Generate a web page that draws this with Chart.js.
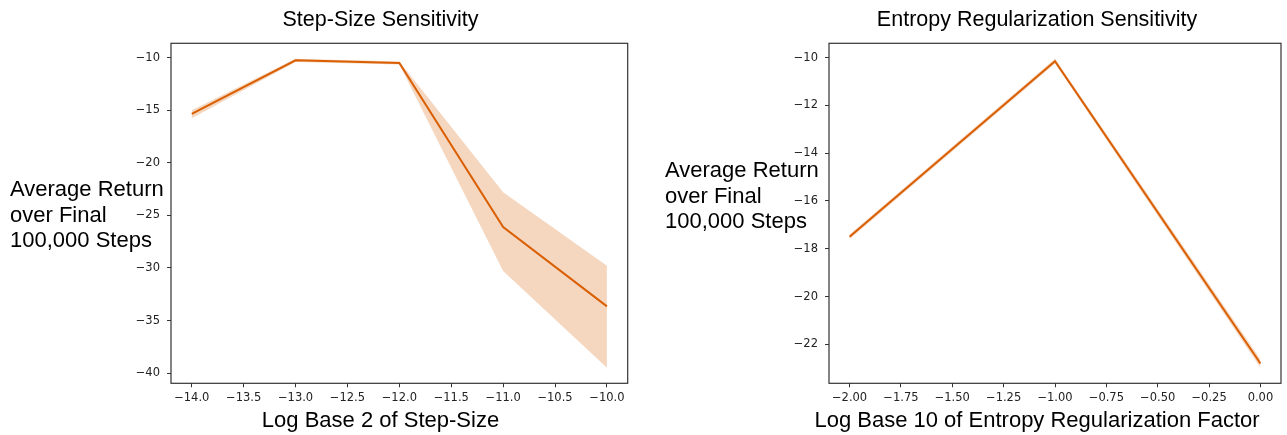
<!DOCTYPE html>
<html><head><meta charset="utf-8">
<script src="https://cdn.jsdelivr.net/npm/chart.js@4.4.0/dist/chart.umd.min.js"></script>
<style>
html,body{margin:0;padding:0;background:#fff;width:1287px;height:435px;overflow:hidden;position:relative;}
.wrap{position:absolute;top:0;height:435px;}
.ylab{position:absolute;font-family:'Liberation Sans',Arial,sans-serif;font-size:22px;line-height:25.5px;color:#000;white-space:nowrap;}
</style></head><body>
<div class="wrap" style="left:100px;width:561px"><canvas id="c1" width="561" height="435"></canvas></div>
<div class="wrap" style="left:787px;width:500px"><canvas id="c2" width="500" height="435"></canvas></div>
<div class="ylab" style="left:10px;top:176px">Average Return<br>over Final<br>100,000 Steps</div>
<div class="ylab" style="left:665px;top:157px">Average Return<br>over Final<br>100,000 Steps</div>
<script>
// ---- Data: Step-Size Sensitivity ----
const stepX      = [-14, -13, -12, -11, -10];
const stepMean   = [-15.35, -10.25, -10.5, -26.1, -33.65];
const stepLower  = [-15.75, -10.4, -10.65, -30.3, -39.5];
const stepUpper  = [-15.0, -10.1, -10.35, -22.8, -29.8];
const stepXTicks = [-14, -13.5, -13, -12.5, -12, -11.5, -11, -10.5, -10];
const stepYTicks = [-40, -35, -30, -25, -20, -15, -10];

// ---- Data: Entropy Regularization Sensitivity ----
const entX      = [-2, -1, 0];
const entMean   = [-17.5, -10.15, -22.8];
const entLower  = [-17.6, -10.25, -22.98];
const entUpper  = [-17.4, -10.05, -22.62];
const entXTicks = [-2, -1.75, -1.5, -1.25, -1, -0.75, -0.5, -0.25, 0];
const entYTicks = [-22, -20, -18, -16, -14, -12, -10];

const LINE = '#d95f02';
const BAND = 'rgba(217,95,2,0.25)';
const TICKFONT = {family: "'DejaVu Sans', sans-serif", size: 11.5};
const TEXTFONT = "'Liberation Sans', Arial, sans-serif";

function fmt(v, dec) {
  const s = Math.abs(v).toFixed(dec);
  return (v < -1e-9 ? '\u2212' : '') + s;
}
function pts(xs, ys) { return xs.map((x, i) => ({x: x, y: ys[i]})); }

const frame = {
  id: 'frame',
  afterDraw(c) {
    const a = c.chartArea, ctx = c.ctx;
    ctx.save();
    ctx.strokeStyle = '#333';
    ctx.lineWidth = 1.2;
    ctx.strokeRect(a.left, a.top, a.right - a.left, a.bottom - a.top);
    ctx.restore();
  }
};

function makeChart(id, cfg) {
  const all = cfg.lo.concat(cfg.hi, cfg.mean);
  const dmin = Math.min(...all), dmax = Math.max(...all);
  const ym = (dmax - dmin) * 0.05;
  const xmin = Math.min(...cfg.xs), xmax = Math.max(...cfg.xs);
  const xm = (xmax - xmin) * 0.05;
  return new Chart(document.getElementById(id), {
    type: 'line',
    data: {
      datasets: [
        {data: pts(cfg.xs, cfg.lo), borderWidth: 0, pointRadius: 0, fill: false, order: 2, borderColor: 'rgba(0,0,0,0)'},
        {data: pts(cfg.xs, cfg.hi), borderWidth: 0, pointRadius: 0, fill: 0, backgroundColor: BAND, order: 1, borderColor: 'rgba(0,0,0,0)'},
        {data: pts(cfg.xs, cfg.mean), borderColor: LINE, borderWidth: 2, pointRadius: 0, fill: false, order: 0, tension: 0}
      ]
    },
    options: {
      responsive: false,
      animation: false,
      devicePixelRatio: 1,
      events: [],
      layout: {padding: {left: cfg.pad, right: cfg.pad, top: 0, bottom: 0}},
      plugins: {
        legend: {display: false},
        tooltip: {enabled: false},
        filler: {drawTime: 'beforeDatasetsDraw'},
        title: {display: true, text: cfg.title, color: '#000',
          font: {family: TEXTFONT, size: 21.5, weight: 'normal'},
          padding: {top: 7.3, bottom: 10.2}},
        subtitle: {display: true, position: 'bottom', text: cfg.xTitle, color: '#000',
          font: {family: TEXTFONT, size: 22, weight: 'normal'},
          padding: {top: 4.5, bottom: 0.8}}
      },
      scales: {
        x: {
          type: 'linear', min: xmin - xm, max: xmax + xm,
          afterBuildTicks: s => { s.ticks = cfg.xTicks.map(v => ({value: v})); },
          afterFit: s => { s.height = 20; },
          ticks: {callback: v => fmt(v, cfg.xDec), font: TICKFONT, color: '#222', padding: 4, maxRotation: 0, autoSkip: false},
          grid: {display: true, drawOnChartArea: false, drawTicks: true, tickLength: 4, color: '#333', lineWidth: 1},
          border: {display: false}
        },
        y: {
          type: 'linear', min: dmin - ym, max: dmax + ym,
          afterBuildTicks: s => { s.ticks = cfg.yTicks.map(v => ({value: v})); },
          afterFit: s => { s.width = cfg.yWidth; },
          ticks: {callback: v => fmt(v, 0), font: TICKFONT, color: '#222', padding: 7, autoSkip: false},
          grid: {display: true, drawOnChartArea: false, drawTicks: true, tickLength: 4, color: '#333', lineWidth: 1},
          border: {display: false}
        }
      }
    },
    plugins: [frame]
  });
}

makeChart('c1', {
  xs: stepX, mean: stepMean, lo: stepLower, hi: stepUpper,
  xTicks: stepXTicks, yTicks: stepYTicks, xDec: 1,
  title: 'Step-Size Sensitivity', xTitle: 'Log Base 2 of Step-Size',
  yWidth: 37.7, pad: 33.3
});
makeChart('c2', {
  xs: entX, mean: entMean, lo: entLower, hi: entUpper,
  xTicks: entXTicks, yTicks: entYTicks, xDec: 2,
  title: 'Entropy Regularization Sensitivity', xTitle: 'Log Base 10 of Entropy Regularization Factor',
  yWidth: 36, pad: 6
});
</script>
</body></html>
